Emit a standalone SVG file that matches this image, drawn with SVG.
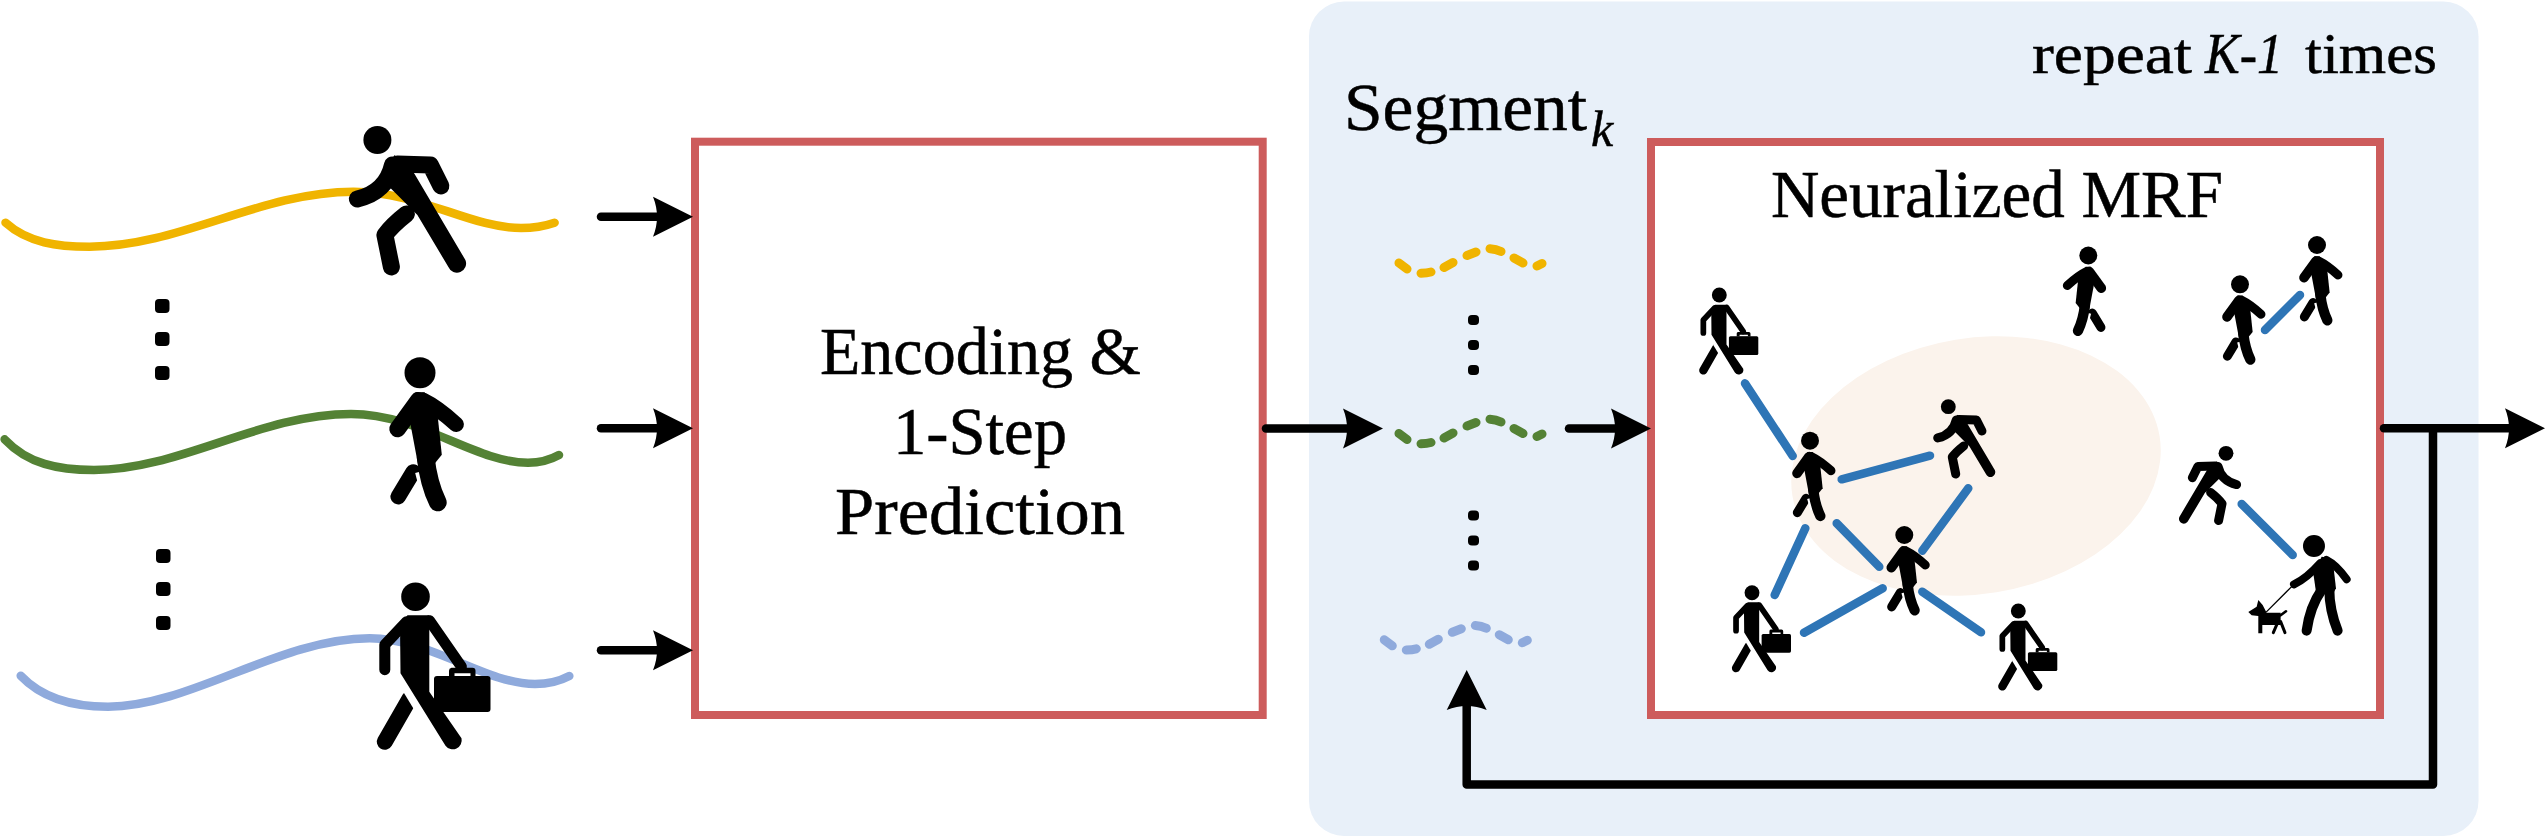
<svg xmlns="http://www.w3.org/2000/svg" width="2546" height="838" viewBox="0 0 2546 838">
<style>
.t{font-family:"Liberation Serif","Times New Roman",serif;font-size:68px;fill:#000;stroke:#000;stroke-width:.5}
.box{fill:#fff;stroke:#CD5C5C;stroke-width:8}
.c{fill:none;stroke:#000;stroke-width:8.500;stroke-linecap:round;stroke-linejoin:round}
.curve{fill:none;stroke-width:8.500;stroke-linecap:round}
.e{fill:none;stroke:#2E75B6;stroke-width:8.500;stroke-linecap:round}
.k{fill:none;stroke:#000;stroke-linecap:round;stroke-linejoin:round}
.y{stroke:#F0B400}.g{stroke:#548235}.b{stroke:#8FAADC}
</style>
<defs>
<marker id="ah" markerUnits="userSpaceOnUse" markerWidth="44" markerHeight="44" refX="20" refY="20" orient="auto" overflow="visible"><path d="M0 0L40 20L0 40Q8 20 0 0Z" fill="#000"/></marker>
<path id="dash" d="M1399 263L1407 269M1421 273.2Q1427 273 1431 272M1444 267.500L1453 262.500M1467 255.500L1476 252M1490 248.700Q1496 249 1501 251.500M1514 258L1523 263M1537 266L1542 263.500" fill="none" stroke-width="9" stroke-linecap="round"/>
<g id="runner">
<circle r="14"/>
<path class="k" stroke-width="17" d="M20 24L53 25L63.500 46"/>
<path class="k" stroke-width="17" d="M15 25Q9 52 -20 59"/>
<path d="M17 15L36 32L88 120A9 9 0 0 1 71 127L40 75L10 45Z"/>
<path class="k" stroke-width="17" d="M29 74Q15 85 7.500 95L14 127"/>
</g>
<g id="walker">
<circle r="27"/>
<path class="k" stroke-width="27" d="M-12 173L-38 216"/>
<path fill="none" stroke="#fff" stroke-width="38" d="M10 170L19 205"/>
<path class="k" stroke-width="29" d="M-3 48L-39 98"/>
<path class="k" stroke-width="27" d="M5 48Q30 60 63 90"/>
<path d="M-20 68L-8 34H8L30 68L38 143L20 165L-3 162L-15 98Z"/>
<path class="k" stroke-width="31" d="M10 148Q15 193 31 226"/>
</g>
<g id="brief">
<circle r="14.300"/>
<path class="k" stroke-width="16" d="M-6 102L-30.700 145"/>
<path fill="none" stroke="#fff" stroke-width="21" d="M-3 90L14 118"/>
<path class="k" stroke-width="11" d="M-9 25L-30.700 48V73"/>
<path class="k" stroke-width="11" d="M14 24L45.900 70"/>
<path d="M-15.500 28L-8 18.600H13.800V95L46 141.600A9 9 0 0 1 30 149L-15 76.600Z"/>
<rect x="18.500" y="79.300" width="56.500" height="36" rx="3"/>
<path fill-rule="evenodd" d="M36 71H57a3 3 0 0 1 3 3V80H33.500V74a3 3 0 0 1 2.500-3ZM39 76.600V79.300H55V76.600Z"/>
</g>
</defs>
<rect id="bg" x="1309" y="1.500" width="1169.500" height="834.500" rx="35" fill="#E8F0F9"/>
<g id="traj-left">
<path class="curve y" d="M5.500 222.700C28 243 58 246.700 89.500 246.700C180 246.700 260 191.700 353.500 191.700C420 191.700 470 228 521 228C532 228 545 226 554.600 222.700"/>
<path class="curve g" d="M4.600 439.300C28 464 58 470 94 470C180 470 260 414 351 414C420 414 475 462.700 528 462.700C540 462.700 550 460 559 455"/>
<path class="curve b" d="M20.700 675.700C42 698 72 706.700 108 706.700C190 706.700 280 638.300 369.600 638.300C430 638.300 485 684 535 684C547 684 558 682 569.300 676"/>
</g>
<g id="person-run"><use href="#runner" transform="translate(377.400 140)"/></g>
<g id="person-walk"><use href="#walker" transform="translate(420 372.700) scale(.574)"/></g>
<g id="person-brief"><use href="#brief" transform="translate(415.500 596.700)"/></g>
<g id="dots-left" fill="#000">
<rect x="155" y="299" width="14.500" height="14" rx="4"/><rect x="155" y="332" width="14.500" height="14" rx="4"/><rect x="155" y="366" width="14.500" height="14" rx="4"/>
<rect x="156" y="549" width="14.500" height="14" rx="4"/><rect x="156" y="582" width="14.500" height="14" rx="4"/><rect x="156" y="616" width="14.500" height="14" rx="4"/>
</g>
<g id="encoder">
<rect class="box" x="695" y="141.700" width="567.700" height="573.300"/>
<text class="t" x="820" y="374" textLength="321" lengthAdjust="spacingAndGlyphs">Encoding &amp;</text>
<text class="t" x="893" y="454" textLength="174" lengthAdjust="spacingAndGlyphs">1-Step</text>
<text class="t" x="835" y="534" textLength="290" lengthAdjust="spacingAndGlyphs">Prediction</text>
</g>
<g id="label-repeat"><text class="t" y="72.700" style="font-size:57px"><tspan x="2032" textLength="160" lengthAdjust="spacingAndGlyphs">repeat</tspan> <tspan x="2205" font-style="italic" textLength="78" lengthAdjust="spacingAndGlyphs">K-1</tspan> <tspan x="2305" textLength="132" lengthAdjust="spacingAndGlyphs">times</tspan></text></g>
<g id="label-segment"><text class="t" x="1344" y="130.400"><tspan textLength="243" lengthAdjust="spacingAndGlyphs">Segment</tspan><tspan x="1591" dy="15.600" font-style="italic" style="font-size:50px">k</tspan></text></g>
<g id="segments">
<use href="#dash" class="y"/>
<use href="#dash" class="g" transform="translate(0 170.500)"/>
<use href="#dash" class="b" transform="translate(-14.700 376.800)"/>
</g>
<g id="dots-seg" fill="#000">
<rect x="1468" y="315" width="11" height="10" rx="4"/><rect x="1468" y="340" width="11" height="10" rx="4"/><rect x="1468" y="365" width="11" height="10" rx="4"/>
<rect x="1468" y="510.500" width="11" height="10" rx="4"/><rect x="1468" y="535.500" width="11" height="10" rx="4"/><rect x="1468" y="560.500" width="11" height="10" rx="4"/>
</g>
<g id="mrf">
<rect class="box" x="1651" y="142" width="729" height="573"/>
<ellipse cx="1976" cy="466" rx="186" ry="128" transform="rotate(-9.200 1976 466)" fill="#FBF3EC"/>
<text class="t" x="1771" y="216.500" textLength="452" lengthAdjust="spacingAndGlyphs">Neuralized MRF</text>
</g>
<g id="mrf-edges">
<path class="e" d="M1745 383.300L1792.700 456"/>
<path class="e" d="M1841.700 479.300L1930 455.700"/>
<path class="e" d="M1968.300 488.300L1922.300 550.700"/>
<path class="e" d="M1836.700 523.300L1879.300 566.700"/>
<path class="e" d="M1805.300 528.300L1774.700 595"/>
<path class="e" d="M1882.700 588.300L1804 632.700"/>
<path class="e" d="M1922.300 591.700L1981 632.300"/>
<path class="e" d="M2300 295L2265 330"/>
<path class="e" d="M2241.700 504L2292.700 555"/>
</g>
<g id="n1"><use href="#brief" transform="translate(1719.300 295) scale(.52)"/></g>
<g id="n2"><use href="#walker" transform="translate(2088.300 255.500) scale(-.333 .333)"/></g>
<g id="n3"><use href="#walker" transform="translate(2240 284.300) scale(.333)"/></g>
<g id="n4"><use href="#walker" transform="translate(2317 245) scale(.333)"/></g>
<g id="n5"><use href="#walker" transform="translate(1810 440.700) scale(.333)"/></g>
<g id="n6"><use href="#runner" transform="translate(1948.300 406.700) scale(.53)"/></g>
<g id="n7"><use href="#walker" transform="translate(1904.300 535) scale(.333)"/></g>
<g id="n8"><use href="#brief" transform="translate(1752 592.700) scale(.52)"/></g>
<g id="n9"><use href="#brief" transform="translate(2018.300 611) scale(.52)"/></g>
<g id="n10"><use href="#runner" transform="translate(2226 453.300) scale(-.53 .53)"/></g>
<g id="n11" transform="translate(2040 220) scale(.3333)">
<circle cx="822" cy="978" r="33"/>
<path d="M820 1060L845 1010Q870 1010 880 1035L888 1105L880 1120L828 1115Z"/>
<path class="k" stroke-width="24" d="M840 1030Q800 1075 762 1093"/>
<path class="k" stroke-width="24" d="M860 1020Q890 1035 920 1078"/>
<path class="k" stroke-width="30" d="M845 1110Q810 1160 800 1232"/>
<path class="k" stroke-width="30" d="M868 1105Q868 1170 893 1232"/>
<path class="k" stroke-width="4" d="M755 1100L680 1175"/>
<path d="M625 1176L650 1160L655 1140L668 1155L680 1178L722 1178V1215H667V1240H655V1188L635 1186Z"/>
<path class="k" stroke-width="8" d="M722 1186L738 1174"/>
<path class="k" stroke-width="9" d="M712 1210L700 1238M722 1205L735 1238"/>
</g>
<g id="connectors" class="c">
<path marker-end="url(#ah)" d="M601 216.700H673"/>
<path marker-end="url(#ah)" d="M601 428.300H673"/>
<path marker-end="url(#ah)" d="M601 650.300H673"/>
<path marker-end="url(#ah)" d="M1266 428.500H1363"/>
<path marker-end="url(#ah)" d="M1569 428.500H1631"/>
<path marker-end="url(#ah)" d="M2384 428.300H2525"/>
<path marker-end="url(#ah)" d="M2433 428.300V784.500H1466.700V690"/>
</g>
</svg>
